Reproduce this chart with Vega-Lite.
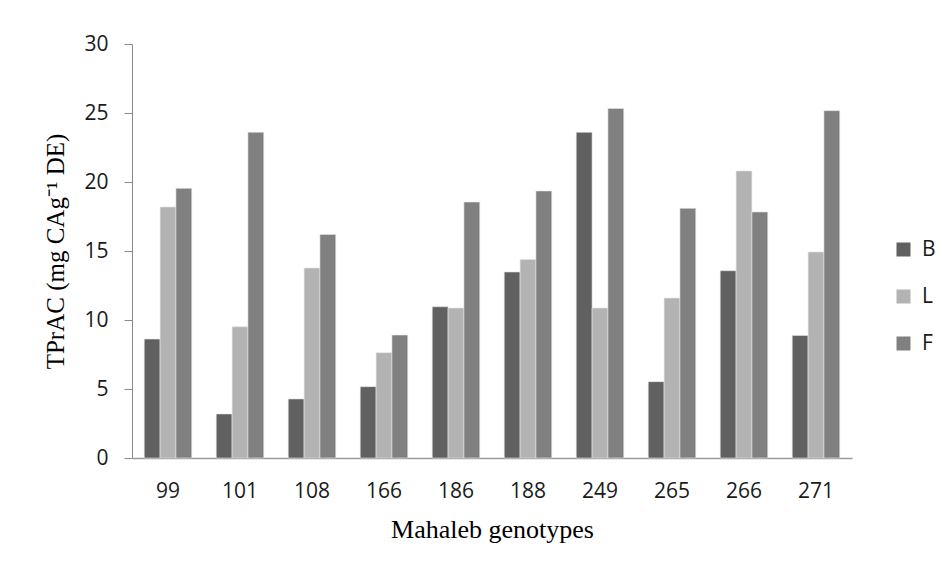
{
  "$schema": "https://vega.github.io/schema/vega-lite/v6.json",
  "width": 720,
  "height": 414,
  "autosize": {"type": "none"},
  "padding": {"left": 132, "top": 44, "right": 90, "bottom": 109},
  "background": "white",
  "data": {
    "values": [
      {"genotype": "99", "part": "B", "value": 8.62},
      {"genotype": "99", "part": "L", "value": 18.19},
      {"genotype": "99", "part": "F", "value": 19.54},
      {"genotype": "101", "part": "B", "value": 3.19},
      {"genotype": "101", "part": "L", "value": 9.51},
      {"genotype": "101", "part": "F", "value": 23.6},
      {"genotype": "108", "part": "B", "value": 4.28},
      {"genotype": "108", "part": "L", "value": 13.77},
      {"genotype": "108", "part": "F", "value": 16.2},
      {"genotype": "166", "part": "B", "value": 5.17},
      {"genotype": "166", "part": "L", "value": 7.63},
      {"genotype": "166", "part": "F", "value": 8.91},
      {"genotype": "186", "part": "B", "value": 10.96},
      {"genotype": "186", "part": "L", "value": 10.87},
      {"genotype": "186", "part": "F", "value": 18.55},
      {"genotype": "188", "part": "B", "value": 13.48},
      {"genotype": "188", "part": "L", "value": 14.39},
      {"genotype": "188", "part": "F", "value": 19.35},
      {"genotype": "249", "part": "B", "value": 23.6},
      {"genotype": "249", "part": "L", "value": 10.87},
      {"genotype": "249", "part": "F", "value": 25.33},
      {"genotype": "265", "part": "B", "value": 5.53},
      {"genotype": "265", "part": "L", "value": 11.59},
      {"genotype": "265", "part": "F", "value": 18.09},
      {"genotype": "266", "part": "B", "value": 13.57},
      {"genotype": "266", "part": "L", "value": 20.8},
      {"genotype": "266", "part": "F", "value": 17.83},
      {"genotype": "271", "part": "B", "value": 8.88},
      {"genotype": "271", "part": "L", "value": 14.93},
      {"genotype": "271", "part": "F", "value": 25.17}
    ]
  },
  "mark": {"type": "bar", "stroke": "#e6e6e6", "strokeWidth": 0.6},
  "encoding": {
    "x": {
      "field": "genotype",
      "type": "nominal",
      "sort": null,
      "scale": {"paddingInner": 0.34, "paddingOuter": 0.17},
      "axis": {
        "title": "Mahaleb genotypes",
        "titleFont": "Liberation Serif",
        "titleFontSize": 26,
        "titleFontWeight": "normal",
        "titleColor": "#000000",
        "titlePadding": 15,
        "labelAngle": 0,
        "labelFont": "Open Sans",
        "labelFontSize": 21,
        "labelColor": "#1a1a1a",
        "labelPadding": 22,
        "ticks": false,
        "domainColor": "#9a9a9a",
        "domainWidth": 1.5
      }
    },
    "xOffset": {"field": "part", "type": "nominal", "sort": ["B", "L", "F"]},
    "y": {
      "field": "value",
      "type": "quantitative",
      "scale": {"domain": [0, 30], "nice": false},
      "axis": {
        "title": "TPrAC (mg CAg⁻¹ DE)",
        "titleFont": "Liberation Serif",
        "titleFontSize": 25,
        "titleFontWeight": "normal",
        "titleColor": "#000000",
        "titlePadding": 15,
        "values": [0, 5, 10, 15, 20, 25, 30],
        "labelFont": "Open Sans",
        "labelFontSize": 21,
        "labelColor": "#1a1a1a",
        "labelPadding": 16,
        "tickSize": 8,
        "tickColor": "#8a8a8a",
        "domainColor": "#8a8a8a",
        "grid": false
      }
    },
    "color": {
      "field": "part",
      "type": "nominal",
      "sort": ["B", "L", "F"],
      "scale": {"domain": ["B", "L", "F"], "range": ["#606060", "#b3b3b3", "#808080"]},
      "legend": {
        "title": null,
        "orient": "none",
        "legendX": 761,
        "legendY": 195,
        "symbolType": "square",
        "symbolSize": 196,
        "symbolStrokeWidth": 0,
        "labelFont": "Open Sans",
        "labelFontSize": 21,
        "labelColor": "#1a1a1a",
        "labelOffset": 8,
        "rowPadding": 25,
        "padding": 0
      }
    }
  },
  "config": {"view": {"stroke": null}}
}
